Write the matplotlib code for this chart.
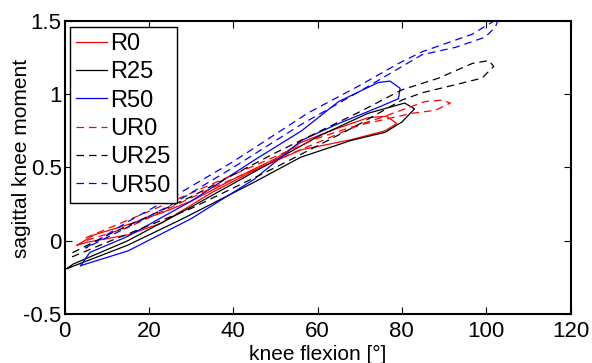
import matplotlib
matplotlib.use('Agg')
import matplotlib.pyplot as plt
from matplotlib.ticker import FuncFormatter

plt.rcParams['font.family'] = 'Liberation Sans'

# loops: knee flexion (deg) vs sagittal knee moment
r0_x = [3, 7, 15, 23, 30, 40, 50, 56, 64, 72, 76.4, 78.8, 76, 68, 56, 45, 35, 23, 15, 5.4, 3]
r0_y = [-0.03, 0.04, 0.11, 0.19, 0.27, 0.42, 0.56, 0.67, 0.76, 0.84, 0.85, 0.80, 0.75, 0.69, 0.62, 0.48, 0.33, 0.12, 0.04, -0.01, -0.03]

r25_x = [0.6, 15, 28, 45, 56, 68, 76, 80, 83, 80.7, 72, 60, 45, 30, 15, 2, 0.6]
r25_y = [-0.19, -0.03, 0.15, 0.40, 0.57, 0.685, 0.74, 0.81, 0.90, 0.94, 0.87, 0.71, 0.47, 0.23, 0.0, -0.16, -0.19]

r50_x = [3.8, 15, 30, 45, 56.2, 65, 75.2, 79.2, 79.6, 77.2, 74.4, 65, 56.2, 45, 30, 15, 6, 3.8]
r50_y = [-0.17, -0.07, 0.15, 0.42, 0.685, 0.80, 0.92, 0.97, 1.04, 1.09, 1.08, 0.95, 0.75, 0.55, 0.27, 0.03, -0.08, -0.17]

ur0_x = [5, 20, 40, 60, 75, 85.5, 89.5, 91.5, 87.9, 82.4, 70, 55, 35, 15, 5]
ur0_y = [0.02, 0.20, 0.45, 0.70, 0.84, 0.95, 0.96, 0.94, 0.89, 0.87, 0.79, 0.61, 0.36, 0.09, 0.0]

ur25_x = [1.8, 11, 30, 50, 68.9, 80, 84.8, 92.7, 99, 101.8, 100.6, 96.7, 88.7, 80, 70, 50, 30, 11, 2, 1.8]
ur25_y = [-0.11, 0.0, 0.22, 0.50, 0.78, 0.96, 1.01, 1.065, 1.11, 1.19, 1.23, 1.21, 1.11, 1.03, 0.88, 0.60, 0.30, 0.05, -0.08, -0.11]

ur50_x = [5, 15, 27, 40, 57.8, 70, 79.2, 84.8, 96.7, 103, 102.2, 99.8, 92.7, 84.8, 70, 56.2, 40, 25, 12, 5]
ur50_y = [-0.05, 0.13, 0.32, 0.54, 0.873, 1.06, 1.21, 1.29, 1.41, 1.52, 1.46, 1.39, 1.32, 1.27, 1.02, 0.795, 0.50, 0.24, 0.05, -0.05]

fig = plt.figure(figsize=(5.92, 3.63), dpi=100)
ax = fig.add_axes([64.5 / 592, 1 - 314 / 363, 506 / 592, 293 / 363])

dash = (0, (6, 4))
ax.plot(r0_x, r0_y, color='#ff0000', lw=0.9, label='R0')
ax.plot(r25_x, r25_y, color='black', lw=0.9, label='R25')
ax.plot(r50_x, r50_y, color='#0000ff', lw=0.9, label='R50')
ax.plot(ur0_x, ur0_y, color='#ff0000', lw=0.9, ls=dash, label='UR0')
ax.plot(ur25_x, ur25_y, color='black', lw=0.9, ls=dash, label='UR25')
ax.plot(ur50_x, ur50_y, color='#0000ff', lw=0.9, ls=dash, label='UR50')

ax.set_xlim(0, 120)
ax.set_ylim(-0.5, 1.5)
ax.set_xticks([0, 20, 40, 60, 80, 100, 120])
ax.set_yticks([-0.5, 0, 0.5, 1, 1.5])
ax.yaxis.set_major_formatter(FuncFormatter(lambda v, p: '%g' % v))
ax.tick_params(direction='in', top=True, right=True, length=5, width=0.8, labelsize=16)
ax.tick_params(axis='x', pad=5)
ax.tick_params(axis='y', pad=2)
for s in ax.spines.values():
    s.set_linewidth(1.5)

ax.set_xlabel('knee flexion [°]', fontsize=15, labelpad=2)
ax.set_ylabel('sagittal knee moment', fontsize=15)
ax.yaxis.set_label_coords(-0.066, 0.53)

leg = ax.legend(loc='upper left', fontsize=17, frameon=True, fancybox=False,
                edgecolor='black', framealpha=1, handlelength=1.3, handletextpad=0.15,
                labelspacing=0.27, borderaxespad=0.25, borderpad=0.25)
leg.get_frame().set_linewidth(1.0)

fig.savefig('out.png', dpi=100)
